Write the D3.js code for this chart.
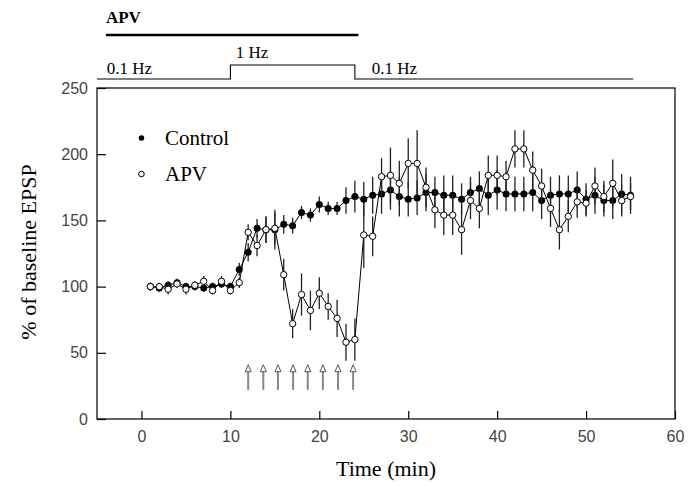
<!DOCTYPE html>
<html>
<head>
<meta charset="utf-8">
<script src="https://cdn.jsdelivr.net/npm/d3@7"></script>
<style>
  body { margin: 0; background: #fff; }
  .tick-label { font-family: "Liberation Sans", Arial, sans-serif; font-size: 16px; fill: #444; }
  .serif { font-family: "Liberation Serif", "Times New Roman", serif; fill: #000; }
</style>
</head>
<body>
<div class="chart"></div>
<script>
// Size of the page and plot box
const WIDTH = 699;
const HEIGHT = 486;
const PLOT = { left: 97, right: 675, top: 88, bottom: 419 };

// Time points (min)
const minutes = [1, 2, 3, 4, 5, 6, 7, 8, 9, 10, 11, 12, 13, 14, 15, 16, 17, 18, 19, 20,
  21, 22, 23, 24, 25, 26, 27, 28, 29, 30, 31, 32, 33, 34, 35, 36, 37, 38, 39, 40,
  41, 42, 43, 44, 45, 46, 47, 48, 49, 50, 51, 52, 53, 54, 55];

// Control (filled circles), % of baseline EPSP and SEM
const controlMean = [100, 99, 101, 103, 100, 100, 99, 100, 102, 100, 113, 126, 144, 143, 143, 147, 146, 156, 154, 162,
  159, 159, 165, 168, 166, 169, 170, 173, 168, 166, 167, 171, 171, 169, 169, 166, 171, 174, 169, 173,
  170, 170, 170, 171, 165, 169, 170, 170, 173, 166, 169, 165, 165, 170, 169];
const controlSem = [3, 3, 3, 3, 3, 3, 3, 3, 3, 3, 5, 7, 7, 10, 15, 7, 6, 5, 5, 6,
  5, 5, 10, 12, 13, 14, 15, 15, 15, 13, 13, 14, 12, 15, 15, 12, 12, 13, 15, 15,
  13, 13, 13, 14, 14, 14, 14, 14, 14, 12, 14, 12, 14, 15, 14];

// APV (open circles)
const apvMean = [100, 100, 98, 102, 98, 101, 104, 97, 104, 97, 103, 141, 131, 143, 144, 109, 72, 94, 82, 95,
  85, 76, 58, 60, 139, 138, 183, 184, 178, 193, 193, 175, 158, 154, 154, 143, 165, 159, 184, 184,
  183, 204, 204, 188, 176, 159, 143, 153, 164, 163, 176, 168, 178, 165, 168];
const apvSem = [3, 3, 4, 3, 4, 3, 4, 3, 4, 3, 4, 6, 8, 10, 12, 12, 11, 16, 15, 12,
  10, 14, 14, 16, 25, 15, 14, 21, 17, 19, 25, 15, 14, 15, 15, 19, 14, 15, 15, 15,
  12, 14, 14, 14, 13, 14, 15, 12, 12, 10, 14, 12, 18, 12, 10];

// 1 Hz stimulus arrows (min)
const arrowTimes = [12, 13.7, 15.35, 17.05, 18.7, 20.4, 22.1, 23.8];
const arrowRange = [22, 41];

// Protocol bars above the plot (min)
const apvBar = [-4, 24.4];
const stimSteps = [[-5, 0], [10, 0], [10, 1], [24, 1], [24, 0], [55.3, 0]];
const stimLabels = ["0.1 Hz", "1 Hz", "0.1 Hz"];
const stimLabelTimes = [-3.9, 10.6, 25.9];

const xTicks = [0, 10, 20, 30, 40, 50, 60];
const yTicks = [0, 50, 100, 150, 200, 250];

const x = d3.scaleLinear().domain([-5, 60]).range([PLOT.left, PLOT.right]);
const y = d3.scaleLinear().domain([0, 250]).range([PLOT.bottom, PLOT.top]);

const svg = d3.select(".chart")
  .append("svg")
  .attr("width", WIDTH)
  .attr("height", HEIGHT);

// frame
svg.append("rect")
  .attr("x", PLOT.left)
  .attr("y", PLOT.top)
  .attr("width", PLOT.right - PLOT.left)
  .attr("height", PLOT.bottom - PLOT.top)
  .attr("fill", "none")
  .attr("stroke", "#000")
  .attr("stroke-width", 1.2);

// x axis, ticks pointing inward
svg.append("g")
  .attr("transform", `translate(0,${PLOT.bottom})`)
  .call(d3.axisBottom(x).tickValues(xTicks).tickSizeInner(-8).tickSizeOuter(0).tickPadding(12))
  .call((g) => g.select(".domain").remove())
  .call((g) => g.selectAll(".tick line").attr("stroke-width", 1.2))
  .call((g) => g.selectAll(".tick text").attr("class", "tick-label").attr("fill", null));

// y axis
svg.append("g")
  .attr("transform", `translate(${PLOT.left},0)`)
  .call(d3.axisLeft(y).tickValues(yTicks).tickSizeInner(-9).tickSizeOuter(0).tickPadding(9))
  .call((g) => g.select(".domain").remove())
  .call((g) => g.selectAll(".tick line").attr("stroke-width", 1.2))
  .call((g) => g.selectAll(".tick text").attr("class", "tick-label").attr("fill", null));

// axis titles
svg.append("text")
  .attr("class", "serif")
  .attr("x", (PLOT.left + PLOT.right) / 2)
  .attr("y", 476)
  .attr("text-anchor", "middle")
  .attr("font-size", 22)
  .text("Time (min)");

svg.append("text")
  .attr("class", "serif")
  .attr("transform", "translate(36,252) rotate(-90)")
  .attr("text-anchor", "middle")
  .attr("font-size", 22)
  .text("% of baseline EPSP");

// stimulus arrows
const arrows = svg.append("g");
arrowTimes.forEach(function (t) {
  const ax = x(t);
  const tipY = y(arrowRange[1]);
  arrows.append("line")
    .attr("x1", ax).attr("x2", ax)
    .attr("y1", tipY + 6).attr("y2", y(arrowRange[0]))
    .attr("stroke", "#888")
    .attr("stroke-width", 2);
  arrows.append("path")
    .attr("d", `M${ax},${tipY} L${ax - 3},${tipY + 7} L${ax + 3},${tipY + 7} Z`)
    .attr("fill", "#fff")
    .attr("stroke", "#444")
    .attr("stroke-width", 0.9);
});

const makeSeries = (mean, sem) => minutes.map((m, i) => ({ t: m, v: mean[i], e: sem[i] }));
const control = makeSeries(controlMean, controlSem);
const apv = makeSeries(apvMean, apvSem);

const lineGen = d3.line().x((d) => x(d.t)).y((d) => y(d.v));

const drawSeries = (data, filled) => {
  const g = svg.append("g");
  g.selectAll(".err")
    .data(data)
    .join("line")
    .attr("x1", (d) => x(d.t)).attr("x2", (d) => x(d.t))
    .attr("y1", (d) => y(d.v - d.e)).attr("y2", (d) => y(d.v + d.e))
    .attr("stroke", "#222")
    .attr("stroke-width", 1.3);
  g.append("path")
    .datum(data)
    .attr("d", lineGen)
    .attr("fill", "none")
    .attr("stroke", "#000")
    .attr("stroke-width", 1);
  g.selectAll(".pt")
    .data(data)
    .join("circle")
    .attr("cx", (d) => x(d.t))
    .attr("cy", (d) => y(d.v))
    .attr("r", filled ? 3.5 : 3.2)
    .attr("fill", filled ? "#000" : "#fff")
    .attr("stroke", "#000")
    .attr("stroke-width", filled ? 0 : 1);
};

drawSeries(control, true);
drawSeries(apv, false);

// legend
const legend = svg.append("g");
[["Control", true, 138], ["APV", false, 174]].forEach(function (d) {
  legend.append("circle")
    .attr("cx", x(0))
    .attr("cy", d[2])
    .attr("r", 2.8)
    .attr("fill", d[1] ? "#000" : "#fff")
    .attr("stroke", "#000")
    .attr("stroke-width", d[1] ? 0 : 1);
  legend.append("text")
    .attr("class", "serif")
    .attr("x", 165)
    .attr("y", d[2] + 7)
    .attr("font-size", 21)
    .text(d[0]);
});

// protocol annotations above the plot
const header = svg.append("g");
header.append("text")
  .attr("class", "serif")
  .attr("x", x(apvBar[0]))
  .attr("y", 23)
  .attr("font-size", 17)
  .attr("font-weight", "bold")
  .text("APV");
header.append("line")
  .attr("x1", x(apvBar[0])).attr("x2", x(apvBar[1]))
  .attr("y1", 35).attr("y2", 35)
  .attr("stroke", "#000")
  .attr("stroke-width", 2.5);

const stepY = d3.scaleLinear().domain([0, 1]).range([79, 65]);
header.append("path")
  .attr("d", d3.line().x((d) => x(d[0])).y((d) => stepY(d[1]))(stimSteps))
  .attr("fill", "none")
  .attr("stroke", "#000")
  .attr("stroke-width", 1.1);

stimLabels.forEach(function (label, i) {
  header.append("text")
    .attr("class", "serif")
    .attr("x", x(stimLabelTimes[i]))
    .attr("y", i === 1 ? 58 : 74)
    .attr("font-size", 17)
    .text(label);
});
</script>
</body>
</html>
